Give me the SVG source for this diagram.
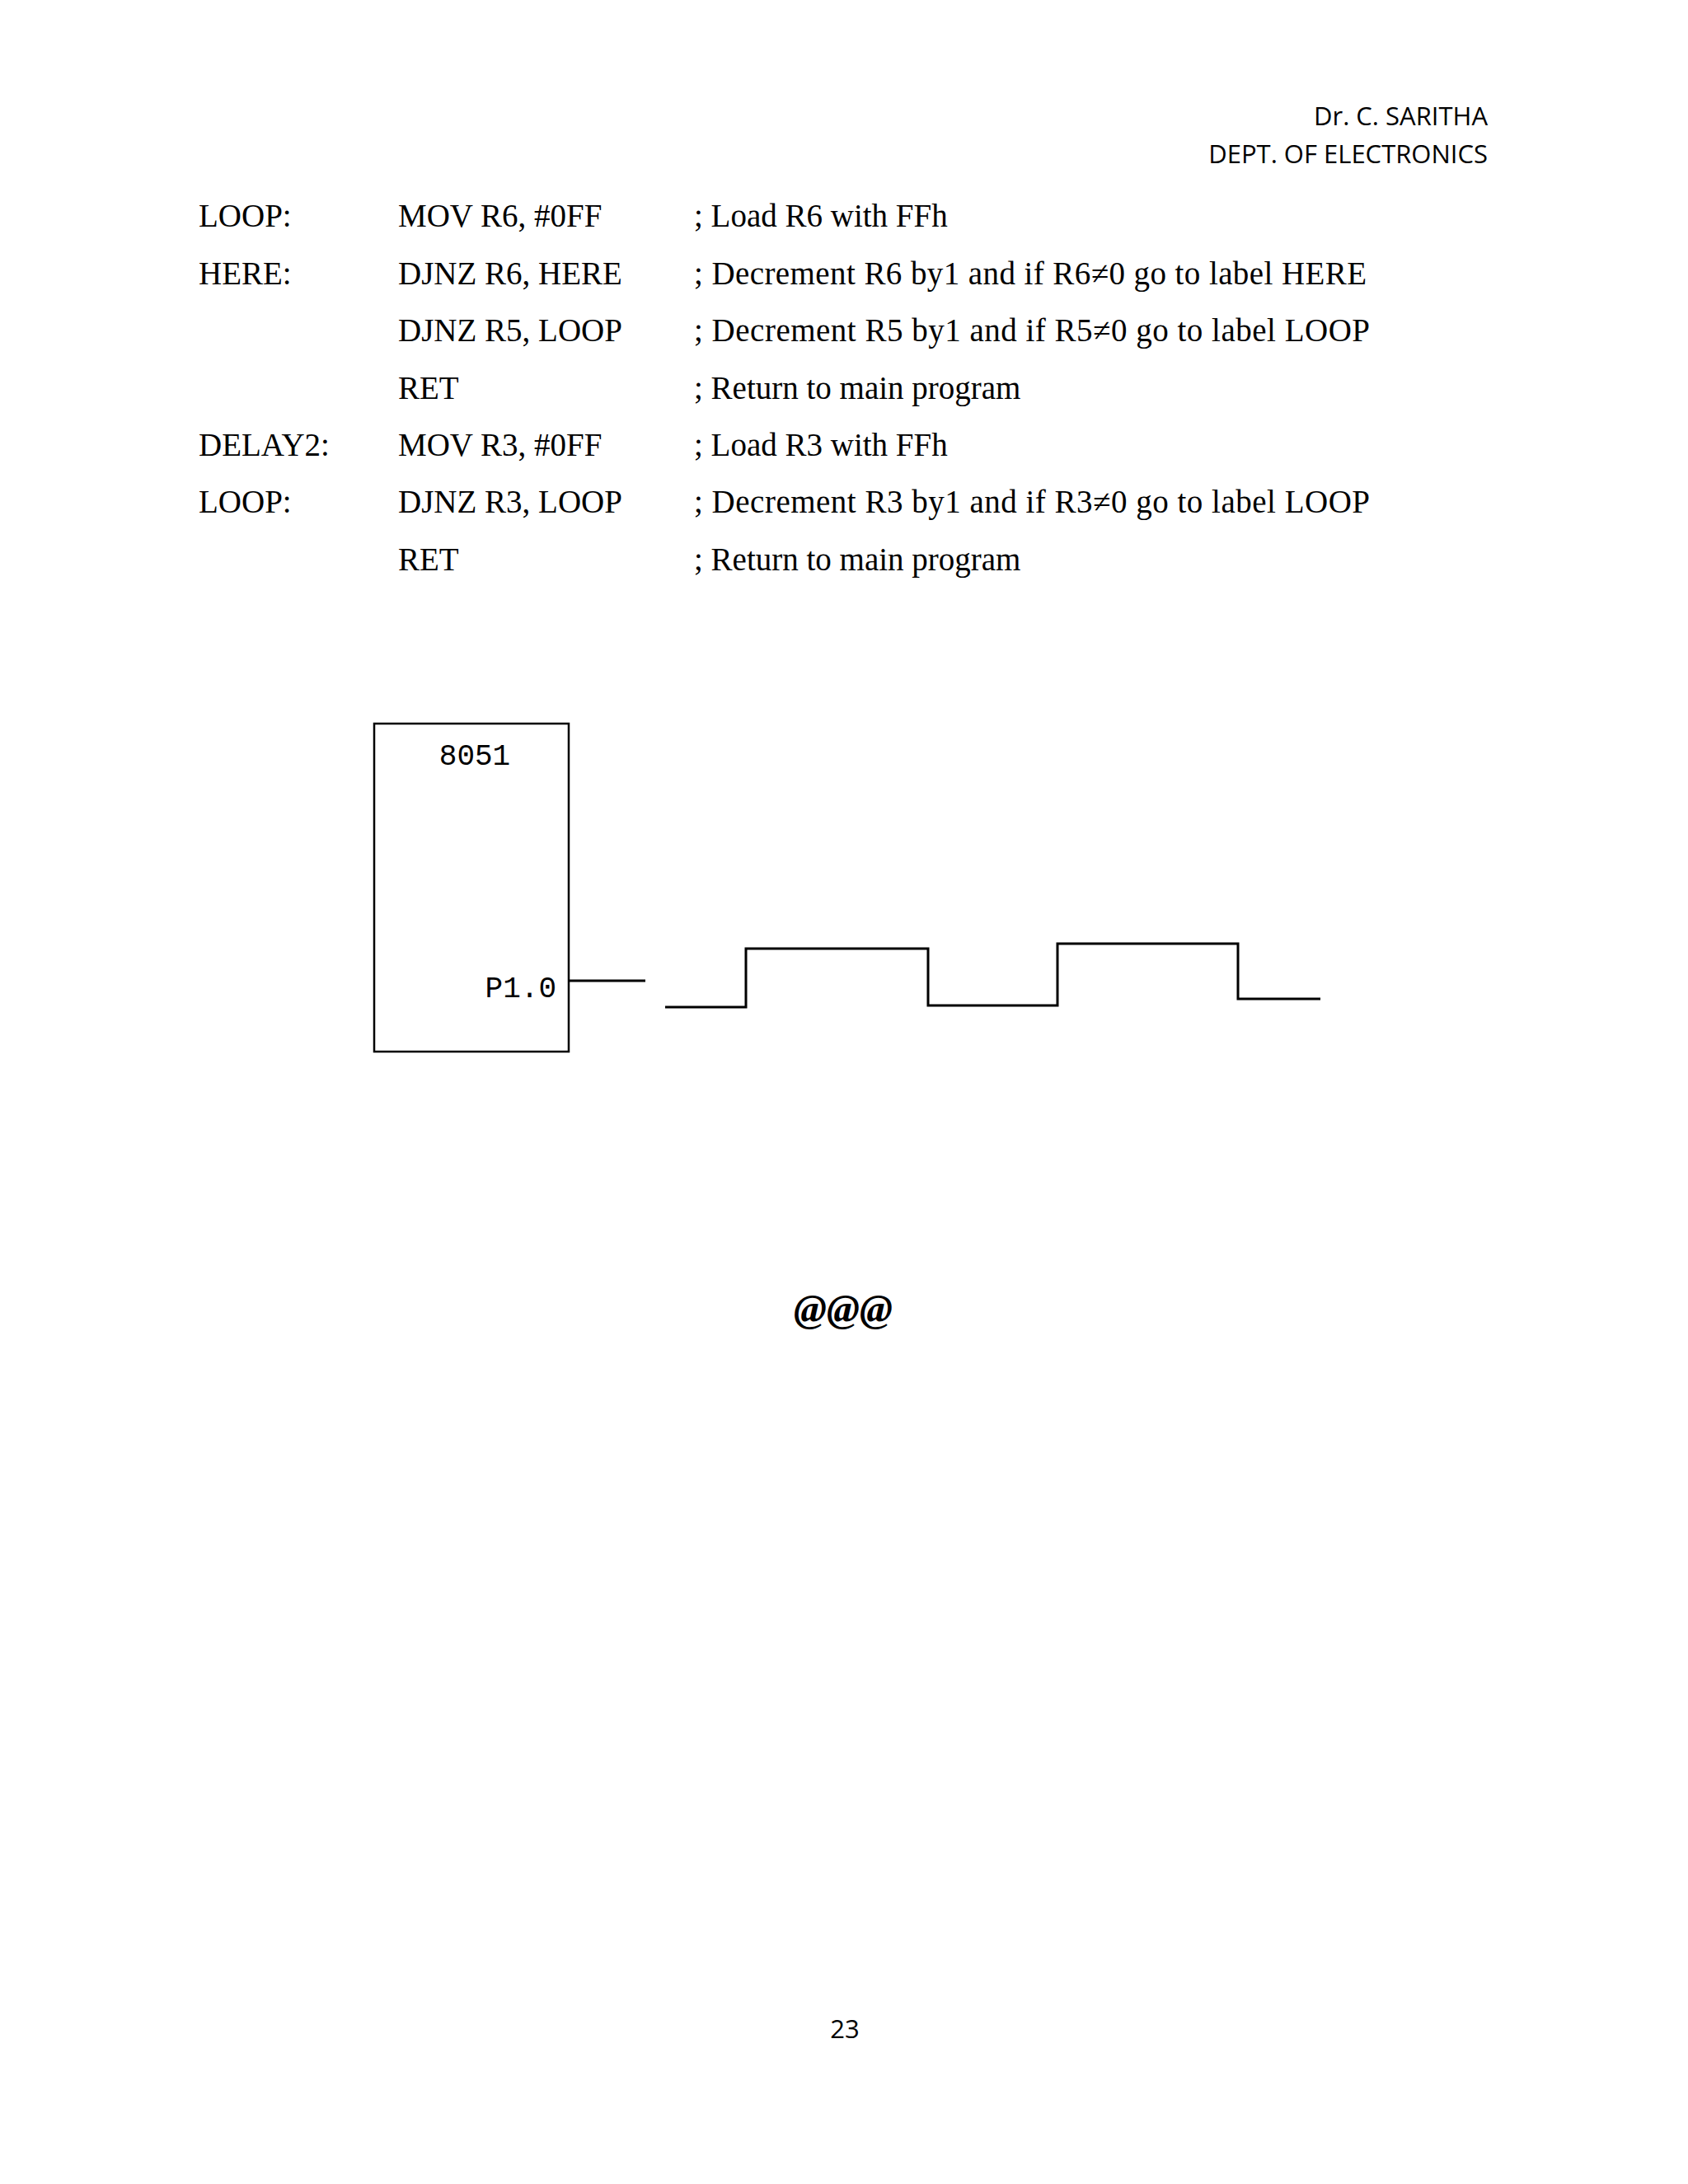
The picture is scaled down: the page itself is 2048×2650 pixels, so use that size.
<svg xmlns="http://www.w3.org/2000/svg" width="2048" height="2650" viewBox="0 0 2048 2650">
<style>
.hd{font-family:"Open Sans","Liberation Sans",sans-serif;font-size:31px;fill:#000}
.c{font-family:"Liberation Serif",serif;font-size:39px;fill:#000}
.m{font-family:"Liberation Mono",monospace;font-size:36px;fill:#000}
.w{fill:none;stroke:#000;stroke-width:3}
</style>
<rect width="2048" height="2650" fill="#fff"/>
<text class="hd" x="1805" y="152" text-anchor="end">Dr. C. SARITHA</text>
<text class="hd" x="1805" y="198" text-anchor="end">DEPT. OF ELECTRONICS</text>
<g id="code">
<text class="c" x="241" y="275">LOOP:</text><text class="c" x="483" y="275">MOV R6, #0FF</text><text class="c" x="842" y="275">; Load R6 with FFh</text>
<text class="c" x="241" y="345">HERE:</text><text class="c" x="483" y="345">DJNZ R6, HERE</text><text class="c" x="842" y="345" textLength="816">; Decrement  R6 by1 and if R6≠0 go to label HERE</text>
<text class="c" x="483" y="414">DJNZ R5, LOOP</text><text class="c" x="842" y="414" textLength="820">; Decrement  R5 by1 and if R5≠0 go to label LOOP</text>
<text class="c" x="483" y="484">RET</text><text class="c" x="842" y="484">; Return  to main  program</text>
<text class="c" x="241" y="553">DELAY2:</text><text class="c" x="483" y="553">MOV R3, #0FF</text><text class="c" x="842" y="553">; Load R3 with FFh</text>
<text class="c" x="241" y="622">LOOP:</text><text class="c" x="483" y="622">DJNZ R3, LOOP</text><text class="c" x="842" y="622" textLength="820">; Decrement  R3 by1 and if R3≠0 go to label LOOP</text>
<text class="c" x="483" y="692">RET</text><text class="c" x="842" y="692">; Return  to main  program</text>
</g>
<g id="mcu">
<rect x="454" y="878" width="236" height="398" fill="none" stroke="#000" stroke-width="2.5"/>
<text class="m" x="576" y="928" text-anchor="middle">8051</text>
<text class="m" x="675" y="1210" text-anchor="end">P1.0</text>
</g>
<g id="connectors">
<line class="w" x1="690" y1="1190" x2="783" y2="1190"/>
<polyline class="w" points="807,1222 905,1222 905,1151 1126,1151 1126,1220 1283,1220 1283,1145 1502,1145 1502,1212 1602,1212"/>
</g>
<text x="1023" y="1604" text-anchor="middle" font-family="Liberation Serif,serif" font-weight="bold" font-style="italic" font-size="48">@@@</text>
<text class="hd" x="1025" y="2473" text-anchor="middle">23</text>
</svg>
